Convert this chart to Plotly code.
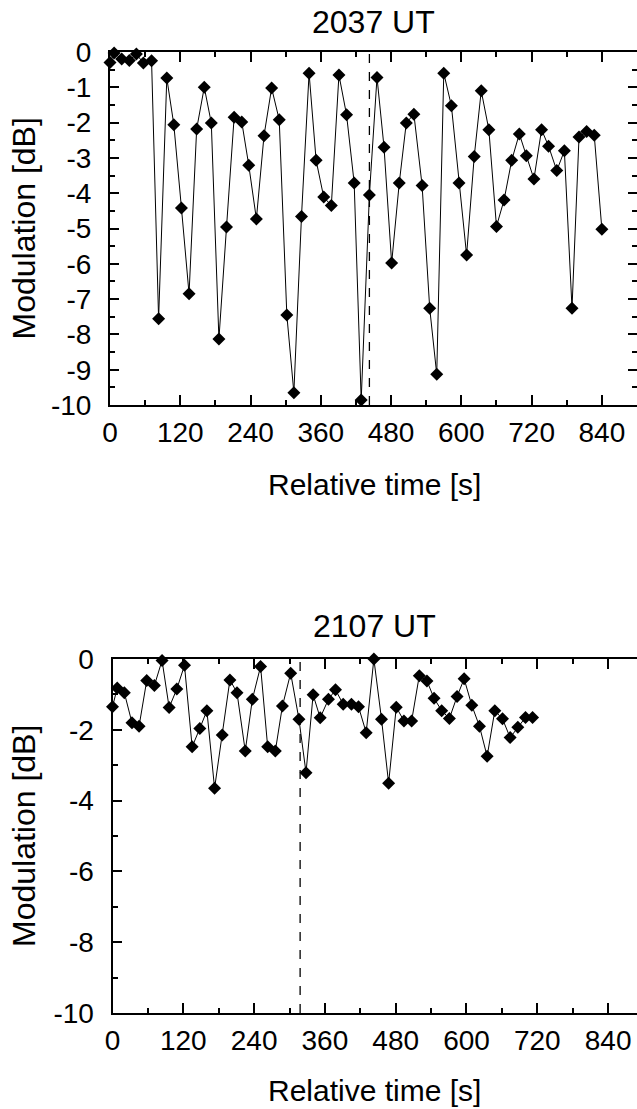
import plotly.graph_objects as go

# ---- data: 2037 UT ----
t_2037 = [0, 7, 20, 33, 45, 57, 71, 83, 97, 109, 122, 135, 148, 161, 173, 186, 199, 212,
          225, 237, 250, 263, 276, 289, 302, 314, 327, 340, 352, 365, 378, 391, 404, 417,
          429, 443, 456, 468, 481, 494, 506, 519, 533, 546, 558, 570, 583, 596, 609, 622,
          634, 647, 660, 673, 686, 699, 711, 724, 737, 749, 763, 776, 789, 801, 814, 827, 840]
mod_2037 = [-0.30, -0.03, -0.20, -0.24, -0.06, -0.31, -0.25, -7.56, -0.74, -2.06, -4.42,
            -6.85, -2.18, -1.00, -2.01, -8.13, -4.96, -1.85, -1.98, -3.21, -4.73, -2.37,
            -1.02, -1.92, -7.45, -9.65, -4.66, -0.60, -3.07, -4.11, -4.35, -0.65, -1.78,
            -3.71, -9.86, -4.05, -0.72, -2.70, -5.98, -3.71, -2.01, -1.76, -3.78, -7.26,
            -9.13, -0.60, -1.52, -3.71, -5.75, -2.96, -1.10, -2.20, -4.94, -4.19, -3.07,
            -2.32, -2.94, -3.60, -2.20, -2.67, -3.36, -2.80, -7.26, -2.41, -2.25, -2.36, -5.02]
event_2037 = 443

# ---- data: 2107 UT ----
t_2107 = [0, 8, 20, 33, 45, 58, 71, 84, 96, 109, 122, 135, 148, 160, 173, 186, 199, 211,
          225, 237, 251, 263, 276, 288, 302, 316, 328, 340, 352, 366, 378, 391, 405, 417,
          430, 443, 456, 468, 481, 494, 507, 520, 533, 545, 558, 571, 584, 596, 609, 622,
          635, 648, 661, 674, 687, 700, 712]
mod_2107 = [-1.35, -0.82, -0.95, -1.80, -1.90, -0.61, -0.75, -0.04, -1.37, -0.85, -0.18,
            -2.48, -1.96, -1.46, -3.65, -2.15, -0.59, -0.95, -2.60, -1.14, -0.21, -2.48,
            -2.60, -1.33, -0.40, -1.70, -3.21, -1.01, -1.66, -1.14, -0.87, -1.28, -1.28,
            -1.35, -2.08, 0.00, -1.70, -3.51, -1.36, -1.75, -1.75, -0.47, -0.62, -1.11,
            -1.46, -1.68, -1.06, -0.56, -1.31, -1.90, -2.75, -1.46, -1.69, -2.22, -1.93,
            -1.65, -1.65]
event_2107 = 318

# ---- ticks ----
x_tick_vals = [0, 120, 240, 360, 480, 600, 720, 840]
x_tick_text = ["0", "120", "240", "360", "480", "600", "720", "840"]
y_tick_vals_2037 = [0, -1, -2, -3, -4, -5, -6, -7, -8, -9, -10]
y_tick_text_2037 = ["0", "-1", "-2", "-3", "-4", "-5", "-6", "-7", "-8", "-9", "-10"]
y_tick_vals_2107 = [0, -2, -4, -6, -8, -10]
y_tick_text_2107 = ["0", "-2", "-4", "-6", "-8", "-10"]

W, H = 637, 1109
FONT = "Liberation Sans, Arial, Helvetica, sans-serif"

fig = go.Figure()
marker = dict(symbol="diamond", size=10, color="black", line=dict(width=0))
fig.add_trace(go.Scatter(x=t_2037, y=mod_2037, mode="lines+markers", marker=marker,
                         line=dict(color="black", width=1), xaxis="x", yaxis="y",
                         cliponaxis=False, showlegend=False))
fig.add_trace(go.Scatter(x=t_2107, y=mod_2107, mode="lines+markers", marker=marker,
                         line=dict(color="black", width=1), xaxis="x2", yaxis="y2",
                         cliponaxis=False, showlegend=False))


def xaxis(domain, rng, anchor):
    return dict(domain=domain, range=rng, anchor=anchor, tickmode="array",
                tickvals=x_tick_vals, ticktext=x_tick_text, ticks="inside", ticklen=10,
                tickwidth=1.5, tickcolor="black", showline=True, linecolor="black",
                linewidth=2, mirror="ticks", showgrid=False, zeroline=False,
                automargin=False,
                tickfont=dict(size=28, color="black", family=FONT), ticklabelstandoff=1,
                minor=dict(ticks="inside", ticklen=5, tickwidth=1.5, tickcolor="black",
                           tickvals=[v + 60 for v in x_tick_vals], showgrid=False))


def yaxis(domain, vals, text, minor_step, anchor, mirror="ticks"):
    return dict(domain=domain, range=[-10, 0], anchor=anchor, tickmode="array",
                tickvals=vals, ticktext=text, ticks="inside", ticklen=9, tickwidth=1.5,
                tickcolor="black", showline=True, linecolor="black", linewidth=2,
                mirror=mirror, showgrid=False, zeroline=False, automargin=False,
                tickfont=dict(size=28, color="black", family=FONT), ticklabelstandoff=11,
                minor=dict(ticks="inside", ticklen=5, tickwidth=1.5, tickcolor="black",
                           dtick=minor_step, tick0=0, showgrid=False))


# right-hand tick marks of the lower panel, whose frame line lies just past the page edge
yaxis3 = dict(overlaying="y2", side="right", anchor="x2", range=[-10, 0],
              tickmode="array", tickvals=y_tick_vals_2107, showticklabels=False,
              ticks="inside", ticklen=9, tickwidth=1.5, tickcolor="black",
              showline=False, showgrid=False, zeroline=False, automargin=False,
              minor=dict(ticks="inside", ticklen=5, tickwidth=1.5, tickcolor="black",
                         dtick=1, tick0=0, showgrid=False))

fig.update_layout(
    width=W, height=H, margin=dict(l=0, r=0, t=0, b=0, autoexpand=False),
    paper_bgcolor="white", plot_bgcolor="white",
    font=dict(family=FONT, color="black"),
    xaxis=xaxis([110 / W, 1.0], [0, 900], "y"),
    yaxis=yaxis([1 - 405 / H, 1 - 52 / H], y_tick_vals_2037, y_tick_text_2037, 0.5, "x"),
    xaxis2=xaxis([112.5 / W, 1.0], [0, 889], "y2"),
    yaxis2=yaxis([1 - 1013 / H, 1 - 659 / H], y_tick_vals_2107, y_tick_text_2107, 1,
                 "x2", mirror=False),
    yaxis3=yaxis3,
)

# dashed event lines
fig.add_shape(type="line", xref="x", yref="y domain", x0=event_2037, x1=event_2037,
              y0=0, y1=1, line=dict(color="black", width=1.3, dash="dash"))
fig.add_shape(type="line", xref="x2", yref="y2 domain", x0=event_2107, x1=event_2107,
              y0=0, y1=1, line=dict(color="black", width=1.3, dash="dash"))

ann = []
ann.append(dict(text="2037 UT", x=(110 + 637) / 2 / W, y=1 - 21.5 / H))
ann.append(dict(text="2107 UT", x=(112.5 + 637) / 2 / W, y=1 - 626 / H))
for a in ann:
    a.update(xref="paper", yref="paper", showarrow=False, xanchor="center",
             yanchor="middle", font=dict(size=32, color="black", family=FONT))
xt = []
for yc in (484, 1090):
    xt.append(dict(text="Relative time [s]", x=(111 + 637) / 2 / W, y=1 - yc / H,
                   xref="paper", yref="paper", showarrow=False, xanchor="center",
                   yanchor="middle", font=dict(size=30, color="black", family=FONT)))
for yc in (228.5, 836):
    xt.append(dict(text="Modulation [dB]", x=24 / W, y=1 - yc / H, textangle=-90,
                   xref="paper", yref="paper", showarrow=False, xanchor="center",
                   yanchor="middle", font=dict(size=32, color="black", family=FONT)))
fig.update_layout(annotations=ann + xt)

fig.write_html("out.html")
